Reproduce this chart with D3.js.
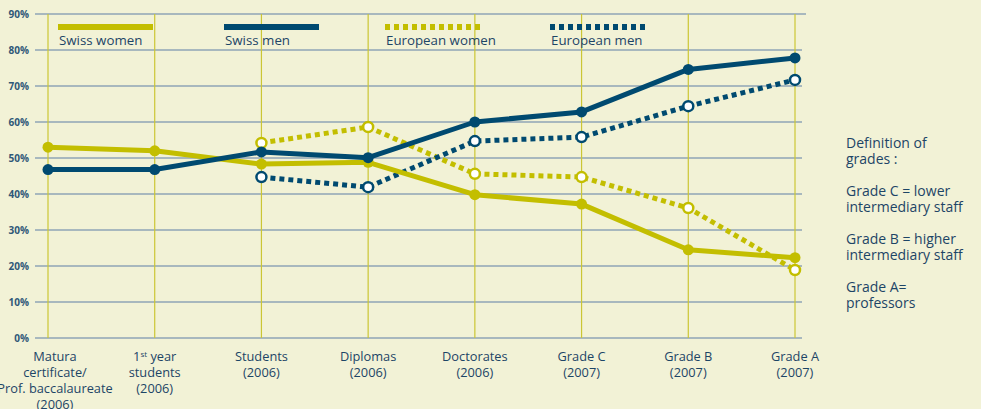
<!DOCTYPE html>
<html>
<head>
<meta charset="utf-8">
<script src="https://cdn.jsdelivr.net/npm/d3@7"></script>
<style>
  body { margin: 0; background: #f2f2d6; }
  svg { display: block; font-family: "Open Sans", "Noto Sans", sans-serif; }
</style>
</head>
<body>
<div id="chart"></div>
<script>
// categories (x axis), label lines
var categories = ["Matura", "1st year", "Students", "Diplomas", "Doctorates", "Grade C", "Grade B", "Grade A"]
var catLabels = [
	["Matura", "certificate/", "Prof. baccalaureate", "(2006)"],
	["1st year", "students", "(2006)"],
	["Students", "(2006)"],
	["Diplomas", "(2006)"],
	["Doctorates", "(2006)"],
	["Grade C", "(2007)"],
	["Grade B", "(2007)"],
	["Grade A", "(2007)"]
]

// series values in percent (null = no data)
var swissWomen = [53, 52, 48.3, 48.8, 39.8, 37.2, 24.5, 22.3]
var swissMen = [46.8, 46.8, 51.7, 50.1, 60, 62.8, 74.6, 77.8]
var euroWomen = [null, null, 54.2, 58.6, 45.6, 44.7, 36.1, 18.9]
var euroMen = [null, null, 44.7, 41.9, 54.7, 55.8, 64.4, 71.7]

var yTicks = [0, 10, 20, 30, 40, 50, 60, 70, 80, 90]

var notes = ["Definition of", "grades :", "", "Grade C = lower", "intermediary staff", "", "Grade B = higher", "intermediary staff", "", "Grade A=", "professors"]

var yellow = "#c3be00"
var blue = "#004a70"
var textCol = "#1d4566"

var svg = d3.select("#chart").append("svg")
	.attr("width", 981)
	.attr("height", 409)

svg.append("rect").attr("width", 981).attr("height", 409).attr("fill", "#f2f2d6")

var xScale = d3.scalePoint()
	.domain(categories)
	.range([48, 795])

var yScale = d3.scaleLinear()
	.domain([0, 90])
	.range([338, 14])

// horizontal grid
svg.append("g")
	.selectAll("line")
	.data(yTicks)
	.join("line")
	.attr("x1", 35)
	.attr("x2", d => d == 90 ? 806 : 802)
	.attr("y1", d => yScale(d))
	.attr("y2", d => yScale(d))
	.style("stroke", "#8fa5b6")
	.style("stroke-width", 1.5)

// vertical lines
svg.append("g")
	.selectAll("line")
	.data(categories)
	.join("line")
	.attr("x1", d => xScale(d))
	.attr("x2", d => xScale(d))
	.attr("y1", yScale(90))
	.attr("y2", yScale(0))
	.style("stroke", "#cbc634")
	.style("stroke-width", 1.2)

// y tick labels
svg.append("g")
	.selectAll("text")
	.data(yTicks)
	.join("text")
	.attr("x", 29)
	.attr("y", d => yScale(d) + 3.5)
	.attr("text-anchor", "end")
	.style("font-size", "10px")
	.style("font-weight", "bold")
	.style("fill", "#2f5878")
	.text(d => d + "%")

// category labels (the first one sits a little to the right of its line)
var lab = svg.append("g")
	.selectAll("text")
	.data(catLabels)
	.join("text")
	.attr("y", 361)
	.attr("text-anchor", "middle")
	.style("font-size", "12.8px")
	.style("fill", textCol)

lab.each(function(lines, i) {
	var t = d3.select(this)
	var cx = xScale(categories[i]) + (i == 0 ? 7 : 0)
	lines.forEach(function(s, j) {
		var ts = t.append("tspan")
			.attr("x", cx)
			.attr("dy", j == 0 ? 0 : 16)
		if (s == "1st year") {
			ts.text("1")
			ts.append("tspan").attr("dy", -4).style("font-size", "8px").text("st")
			ts.append("tspan").attr("dy", 4).text(" year")
		} else {
			ts.text(s)
		}
	})
})

var line = d3.line()
	.defined(d => d != null)
	.x((d, i) => xScale(categories[i]))
	.y(d => yScale(d))

function drawSeries(data, color, dashed) {
	svg.append("path")
		.datum(data)
		.attr("d", line)
		.style("fill", "none")
		.style("stroke", color)
		.style("stroke-width", 5)
		.style("stroke-linejoin", "round")
		.style("stroke-dasharray", dashed ? "5,4" : null)

	var pts = data.map((v, i) => ({v: v, i: i})).filter(d => d.v != null)
	svg.append("g")
		.selectAll("circle")
		.data(pts)
		.join("circle")
		.attr("cx", d => xScale(categories[d.i]))
		.attr("cy", d => yScale(d.v))
		.attr("r", dashed ? 5 : 5.5)
		.style("fill", dashed ? "white" : color)
		.style("stroke", color)
		.style("stroke-width", dashed ? 2.5 : 0)
}

drawSeries(euroWomen, yellow, true)
drawSeries(euroMen, blue, true)
drawSeries(swissWomen, yellow, false)
drawSeries(swissMen, blue, false)

// legend
var legend = [
	{name: "Swiss women", color: yellow, dashed: false, x: 58},
	{name: "Swiss men", color: blue, dashed: false, x: 224},
	{name: "European women", color: yellow, dashed: true, x: 385},
	{name: "European men", color: blue, dashed: true, x: 550}
]
var lg = svg.append("g")
	.selectAll("g")
	.data(legend)
	.join("g")
lg.append("line")
	.attr("x1", d => d.x)
	.attr("x2", d => d.x + 95)
	.attr("y1", 27)
	.attr("y2", 27)
	.style("stroke", d => d.color)
	.style("stroke-width", 6)
	.style("stroke-dasharray", d => d.dashed ? "5,4" : null)
lg.append("text")
	.attr("x", d => d.x + 1)
	.attr("y", 45)
	.style("font-size", "13.3px")
	.style("fill", textCol)
	.text(d => d.name)

// notes on the right
var noteLines = notes.map((s, i) => ({s: s, i: i})).filter(d => d.s != "")
svg.append("g")
	.selectAll("text")
	.data(noteLines)
	.join("text")
	.attr("x", 846)
	.attr("y", d => 148 + d.i * 16)
	.style("font-size", "14px")
	.style("font-weight", 500)
	.style("fill", textCol)
	.text(d => d.s)
</script>
</body>
</html>
